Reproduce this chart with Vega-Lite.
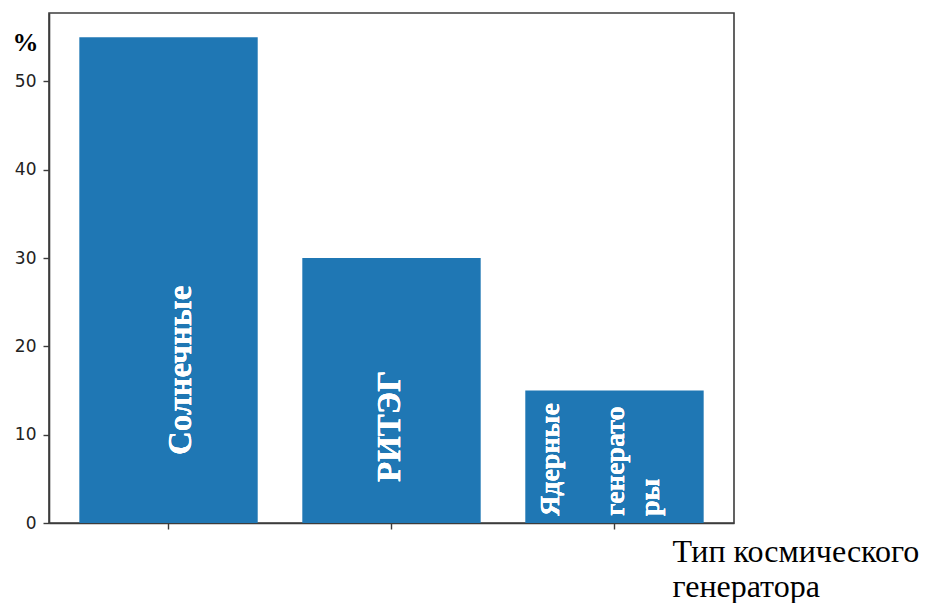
{
  "$schema": "https://vega.github.io/schema/vega-lite/v6.json",
  "width": 685,
  "height": 510,
  "autosize": {"type": "none"},
  "padding": {"left": 49, "top": 13, "right": 198, "bottom": 80},
  "background": "white",
  "config": {
    "view": {"stroke": "#3c3c3c", "strokeWidth": 1.6},
    "axis": {
      "grid": false,
      "domainColor": "#3c3c3c",
      "domainWidth": 1.6,
      "tickColor": "#3c3c3c",
      "tickWidth": 1.4,
      "tickSize": 6,
      "labelFont": "DejaVu Sans",
      "labelFontSize": 17,
      "labelColor": "#222222"
    }
  },
  "data": {
    "values": [
      {"type": "Солнечные", "share": 55},
      {"type": "РИТЭГ", "share": 30},
      {"type": "Ядерные генераторы", "share": 15}
    ]
  },
  "layer": [
    {
      "mark": {"type": "bar", "color": "#1f77b4"},
      "encoding": {
        "x": {
          "field": "type",
          "type": "nominal",
          "sort": null,
          "scale": {"paddingInner": 0.2, "paddingOuter": 0.136},
          "axis": {
            "labels": false,
            "ticks": true,
            "title": ["Тип космического", "генератора"],
            "titleFont": "'Liberation Serif', 'DejaVu Serif', serif",
            "titleFontSize": 32,
            "titleFontWeight": "normal",
            "titleColor": "black",
            "titleX": 623,
            "titleY": 38,
            "titleAlign": "left",
            "titleBaseline": "alphabetic",
            "titleLineHeight": 35
          }
        },
        "y": {
          "field": "share",
          "type": "quantitative",
          "scale": {"domain": [0, 57.75], "nice": false},
          "axis": {
            "values": [0, 10, 20, 30, 40, 50],
            "labelPadding": 7,
            "title": "%",
            "titleAngle": 0,
            "titleX": -24,
            "titleY": 37,
            "titleAlign": "center",
            "titleBaseline": "alphabetic",
            "titleFont": "'Liberation Serif', 'DejaVu Serif', serif",
            "titleFontWeight": "bold",
            "titleFontSize": 26,
            "titleColor": "black"
          }
        }
      }
    },
    {
      "mark": {"type": "text", "text": "Солнечные", "angle": 270, "align": "left", "baseline": "alphabetic", "dx": 68, "dy": 22, "font": "'Liberation Serif', 'DejaVu Serif', serif", "fontWeight": "bold", "fontSize": 33, "color": "white"},
      "encoding": {"x": {"datum": "Солнечные", "type": "nominal"}, "y": {"datum": 0, "type": "quantitative"}}
    },
    {
      "mark": {"type": "text", "text": "РИТЭГ", "angle": 270, "align": "left", "baseline": "alphabetic", "dx": 41, "dy": 8, "font": "'Liberation Serif', 'DejaVu Serif', serif", "fontWeight": "bold", "fontSize": 33, "color": "white"},
      "encoding": {"x": {"datum": "РИТЭГ", "type": "nominal"}, "y": {"datum": 0, "type": "quantitative"}}
    },
    {
      "mark": {"type": "text", "text": "Ядерные", "angle": 270, "align": "left", "baseline": "alphabetic", "dx": 7, "dy": -55, "font": "'Liberation Serif', 'DejaVu Serif', serif", "fontWeight": "bold", "fontSize": 28, "color": "white"},
      "encoding": {"x": {"datum": "Ядерные генераторы", "type": "nominal"}, "y": {"datum": 0, "type": "quantitative"}}
    },
    {
      "mark": {"type": "text", "text": "генерато", "angle": 270, "align": "left", "baseline": "alphabetic", "dx": 7, "dy": 10, "font": "'Liberation Serif', 'DejaVu Serif', serif", "fontWeight": "bold", "fontSize": 28, "color": "white"},
      "encoding": {"x": {"datum": "Ядерные генераторы", "type": "nominal"}, "y": {"datum": 0, "type": "quantitative"}}
    },
    {
      "mark": {"type": "text", "text": "ры", "angle": 270, "align": "left", "baseline": "alphabetic", "dx": 7, "dy": 45, "font": "'Liberation Serif', 'DejaVu Serif', serif", "fontWeight": "bold", "fontSize": 28, "color": "white"},
      "encoding": {"x": {"datum": "Ядерные генераторы", "type": "nominal"}, "y": {"datum": 0, "type": "quantitative"}}
    }
  ]
}
